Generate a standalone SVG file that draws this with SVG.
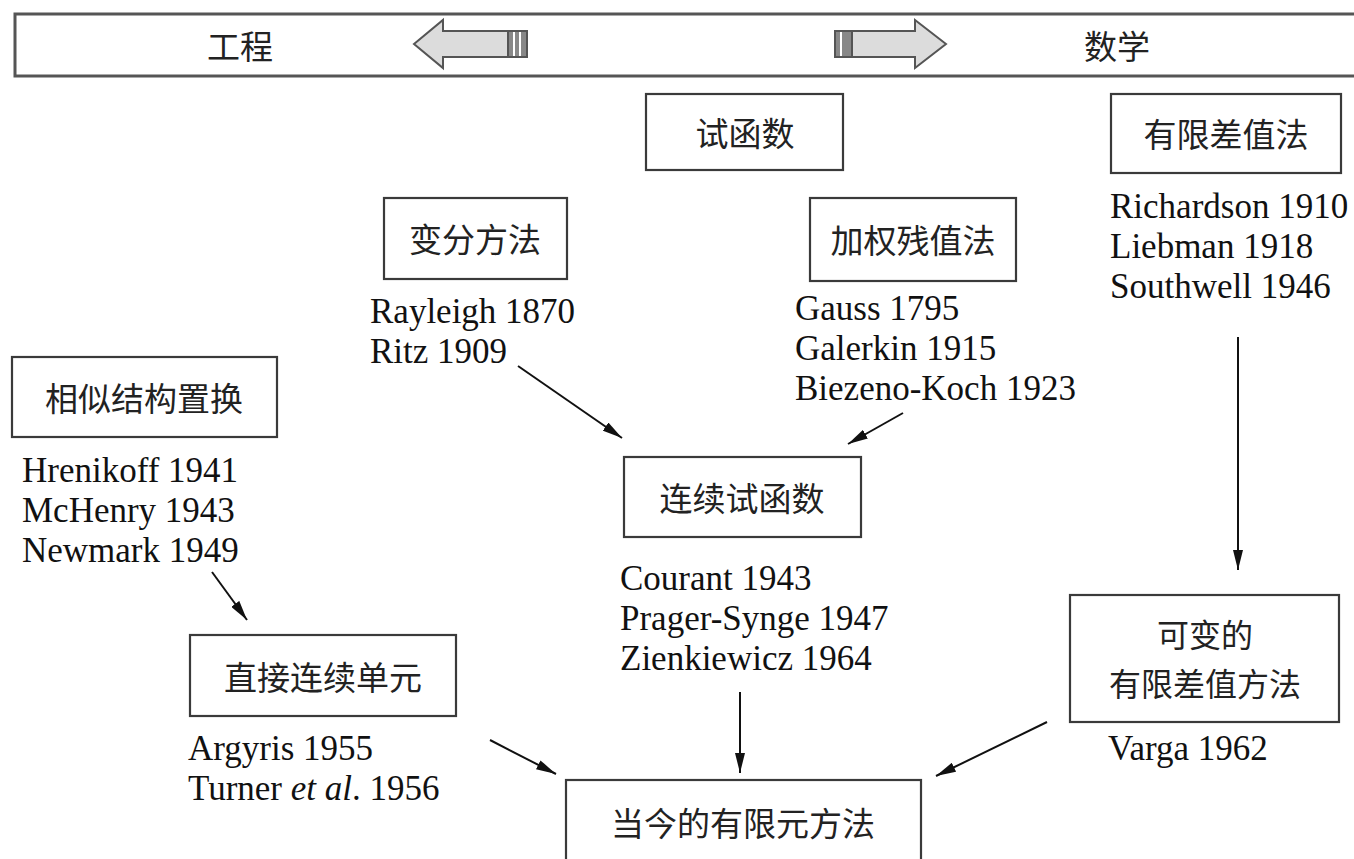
<svg xmlns="http://www.w3.org/2000/svg" width="1354" height="859" viewBox="0 0 1354 859">
<style>
.box{fill:#fff;stroke:#3a3a3a;stroke-width:2.2}
.cn{font-family:"Noto Sans CJK SC","Noto Sans CJK TC",sans-serif;font-size:33px;fill:#222;text-anchor:middle;dominant-baseline:central}
.cn2{font-size:32px}
.en{font-family:"Liberation Serif","Times New Roman",serif;font-size:35px;fill:#111}
.con{stroke:#111;stroke-width:2;fill:none;marker-end:url(#ah)}
.arw{fill:#dcdcdc;stroke:#555;stroke-width:2}
</style>
<defs>
<marker id="ah" viewBox="0 0 20 10" refX="20" refY="5" markerWidth="20" markerHeight="10" markerUnits="userSpaceOnUse" orient="auto">
<path d="M0,0 L20,5 L0,10 Z" fill="#111"/>
</marker>
</defs>
<rect width="1354" height="859" fill="#fff"/>
<g id="topbar">
<rect x="15" y="14" width="1360" height="62" fill="#fff" stroke="#555" stroke-width="3"/>
<text class="cn" x="240" y="45">工程</text>
<text class="cn" x="1117" y="45">数学</text>
<polygon class="arw" points="414,44 443,20 443,31 508,31 508,57 443,57 443,68"/>
<rect x="508" y="31" width="19" height="26" fill="#888" stroke="#555" stroke-width="2"/>
<line x1="514" y1="32" x2="514" y2="56" stroke="#fff" stroke-width="2"/>
<line x1="520" y1="32" x2="520" y2="56" stroke="#fff" stroke-width="2"/>
<polygon class="arw" points="946,44 915,20 915,31 852,31 852,57 915,57 915,68"/>
<rect x="835" y="31" width="17" height="26" fill="#888" stroke="#555" stroke-width="2"/>
<line x1="841" y1="32" x2="841" y2="56" stroke="#fff" stroke-width="2"/>
</g>
<g id="trial">
<rect class="box" x="646" y="94" width="197" height="76"/>
<text class="cn" x="745" y="132">试函数</text>
</g>
<g id="fdm">
<rect class="box" x="1111" y="94" width="230" height="79"/>
<text class="cn" x="1226" y="133">有限差值法</text>
<text class="en" x="1110" y="218">Richardson 1910</text>
<text class="en" x="1110" y="258">Liebman 1918</text>
<text class="en" x="1110" y="298">Southwell 1946</text>
</g>
<g id="variational">
<rect class="box" x="384" y="198" width="183" height="81"/>
<text class="cn" x="475" y="238">变分方法</text>
<text class="en" x="370" y="323">Rayleigh 1870</text>
<text class="en" x="370" y="363">Ritz 1909</text>
</g>
<g id="weighted">
<rect class="box" x="810" y="198" width="206" height="83"/>
<text class="cn" x="913" y="239">加权残值法</text>
<text class="en" x="795" y="320">Gauss 1795</text>
<text class="en" x="795" y="360">Galerkin 1915</text>
<text class="en" x="795" y="400">Biezeno-Koch 1923</text>
</g>
<g id="analogue">
<rect class="box" x="12" y="357" width="265" height="80"/>
<text class="cn" x="144" y="397">相似结构置换</text>
<text class="en" x="22" y="482">Hrenikoff 1941</text>
<text class="en" x="22" y="522">McHenry 1943</text>
<text class="en" x="22" y="562">Newmark 1949</text>
</g>
<g id="continuous">
<rect class="box" x="624" y="457" width="237" height="80"/>
<text class="cn" x="742" y="497">连续试函数</text>
<text class="en" x="620" y="590">Courant 1943</text>
<text class="en" x="620" y="630">Prager-Synge 1947</text>
<text class="en" x="620" y="670">Zienkiewicz 1964</text>
</g>
<g id="direct">
<rect class="box" x="190" y="635" width="266" height="81"/>
<text class="cn" x="323" y="676">直接连续单元</text>
<text class="en" x="188" y="760">Argyris 1955</text>
<text class="en" x="188" y="800">Turner <tspan font-style="italic">et al</tspan>. 1956</text>
</g>
<g id="variable">
<rect class="box" x="1070" y="595" width="269" height="127"/>
<text class="cn cn2" x="1205" y="633">可变的</text>
<text class="cn cn2" x="1205" y="682">有限差值方法</text>
<text class="en" x="1108" y="760">Varga 1962</text>
</g>
<g id="modern">
<rect class="box" x="566" y="780" width="355" height="95"/>
<text class="cn" x="743" y="822">当今的有限元方法</text>
</g>
<g id="connectors">
<line class="con" x1="518" y1="366" x2="622" y2="438"/>
<line class="con" x1="903" y1="413" x2="848" y2="444"/>
<line class="con" x1="212" y1="572" x2="247" y2="620"/>
<line class="con" x1="1238" y1="337" x2="1238" y2="570"/>
<line class="con" x1="740" y1="692" x2="740" y2="773"/>
<line class="con" x1="490" y1="740" x2="556" y2="774"/>
<line class="con" x1="1047" y1="722" x2="936" y2="776"/>
</g>
</svg>
